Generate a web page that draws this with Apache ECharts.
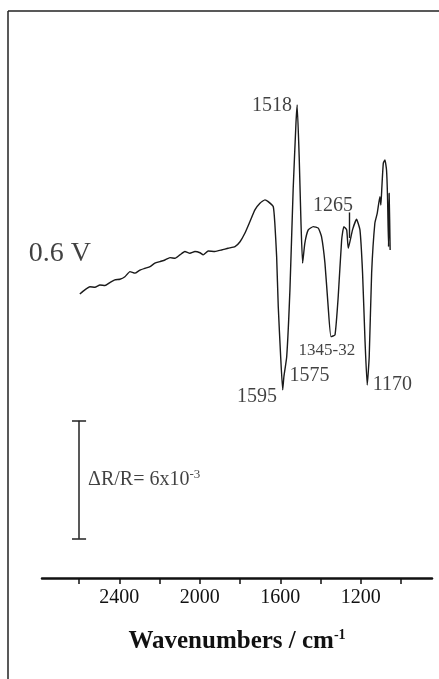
<!DOCTYPE html>
<html>
<head>
<meta charset="utf-8">
<script src="https://cdn.jsdelivr.net/npm/echarts@6/dist/echarts.min.js"></script>
<style>
html,body{margin:0;padding:0;background:#fff;}
#chart{width:439px;height:679px;}
</style>
</head>
<body>
<div id="chart"></div>
<script>
// Wavenumber (cm-1) of each spectrum point
const wavenumbers = [2596,2571,2546,2521,2496,2471,2447,2422,2397,2372,2347,2322,2297,2272,2247,2223,2198,2173,2148,2123,2099,2074,2049,2024,1999,1983,1958,1925,1891,1859,1825,1800,1776,1751,1726,1701,1676,1660,1635,1627,1618,1610,1598,1588,1582,1568,1552,1536,1522,1516,1506,1497,1489,1478,1461,1436,1411,1395,1378,1362,1348,1328,1312,1295,1284,1270,1262,1241,1221,1204,1191,1179,1168,1158,1146,1130,1118,1105,1100,1095,1088,1080,1072,1067,1062,1059,1054];
// Reflectance change, units of 1e-3 (arbitrary offset)
const reflectance = [14.45,14.66,14.82,14.79,14.91,14.88,15.03,15.17,15.20,15.33,15.59,15.51,15.67,15.76,15.84,16.02,16.10,16.18,16.30,16.27,16.44,16.61,16.52,16.61,16.55,16.44,16.64,16.61,16.69,16.78,16.86,17.11,17.54,18.13,18.73,19.07,19.24,19.15,18.90,18.05,16.35,13.81,11.26,9.57,10.24,11.26,14.66,19.75,23.14,24.07,21.44,18.05,16.02,17.03,17.71,17.88,17.80,17.37,16.02,13.81,12.28,12.37,14.32,17.20,17.88,17.71,16.78,17.71,18.25,17.71,15.51,12.11,9.82,11.26,15.51,18.05,18.56,19.40,18.98,19.91,21.10,21.27,20.76,19.40,16.86,19.58,16.69];

// Axis ticks and labels
const tickValues = [2600,2400,2200,2000,1800,1600,1400,1200,1000];
const labelValues = [2400,2000,1600,1200];

// Peak annotations: text, wavenumber, value
const peakTexts = ['1518','1265','1595','1575','1345-32','1170'];
const peakWn = [1641,1338,1716,1455,1368,1043];
const peakVal = [24.02,18.93,9.21,10.31,11.55,9.82];

// 1265 marker
const markerWn = 1256;
const markerRange = [17.3,18.6];

// Scale bar: ΔR/R = 6x10^-3
const scaleBarWn = 2600;
const scaleBarRange = [2, 8];
const scaleCapHalf = 35;

const potentialLabel = '0.6 V';
const potentialPos = [2695, 16.49];

const FONT = 'Liberation Serif';
const chart = echarts.init(document.getElementById('chart'));

const spectrum = wavenumbers.map((w,i)=>[w, reflectance[i]]);
const peaks = peakTexts.map((t,i)=>({value:[peakWn[i], peakVal[i]], name:t,
  label:{fontSize: t==='1345-32'?17:20}}));

chart.setOption({
  backgroundColor:'#fff',
  animation:false,
  grid:{left:42,right:7,top:67,bottom:101},
  xAxis:{
    type:'value', inverse:true, min:846, max:2784,
    splitLine:{show:false},
    axisLine:{lineStyle:{color:'#111',width:2.5}},
    axisTick:{customValues:tickValues,length:6,lineStyle:{color:'#111',width:1.5}},
    axisLabel:{customValues:labelValues,formatter:v=>String(v),fontFamily:FONT,fontSize:20,color:'#111',margin:10},
    name:'{b|Wavenumbers / cm}{s|-1}',
    nameLocation:'middle', nameGap:50,
    nameTextStyle:{rich:{
      b:{fontFamily:FONT,fontWeight:'bold',fontSize:25,color:'#111',lineHeight:28},
      s:{fontFamily:FONT,fontWeight:'bold',fontSize:14,color:'#111',verticalAlign:'top',lineHeight:28,padding:[0,0,8,0]}
    }}
  },
  yAxis:{type:'value',min:0,max:26,show:false},
  graphic:[
    {type:'line',shape:{x1:8,y1:11,x2:8,y2:679},style:{stroke:'#222',lineWidth:1.5}},
    {type:'line',shape:{x1:8,y1:11,x2:439,y2:11},style:{stroke:'#222',lineWidth:1.5}}
  ],
  series:[
    {
      type:'line', data:spectrum, symbol:'none', smooth:0.15,
      lineStyle:{color:'#1a1a1a',width:1.4},
      markLine:{
        silent:true, symbol:'none', label:{show:false},
        lineStyle:{color:'#1a1a1a',width:1.4,type:'solid'},
        data:[
          [{coord:[markerWn,markerRange[0]]},{coord:[markerWn,markerRange[1]]}]
        ]
      }
    },
    {
      type:'line', data:[], symbol:'none',
      markLine:{
        silent:true, symbol:'none', label:{show:false},
        lineStyle:{color:'#222',width:1.5,type:'solid'},
        data:[
          [{coord:[scaleBarWn,scaleBarRange[0]]},{coord:[scaleBarWn,scaleBarRange[1]]}],
          [{coord:[scaleBarWn+scaleCapHalf,scaleBarRange[0]]},{coord:[scaleBarWn-scaleCapHalf,scaleBarRange[0]]}],
          [{coord:[scaleBarWn+scaleCapHalf,scaleBarRange[1]]},{coord:[scaleBarWn-scaleCapHalf,scaleBarRange[1]]}]
        ]
      }
    },
    {
      type:'scatter', data:peaks, symbolSize:0,
      label:{show:true,position:'inside',formatter:p=>p.name,fontFamily:FONT,color:'#111'}
    },
    {
      type:'scatter', data:[{value:potentialPos,name:potentialLabel}], symbolSize:0,
      label:{show:true,position:'inside',formatter:p=>p.name,fontFamily:FONT,fontSize:28,color:'#111'}
    },
    {
      type:'scatter', data:[{value:[scaleBarWn - 45, (scaleBarRange[0]+scaleBarRange[1])/2]}], symbolSize:0,
      label:{show:true,position:'right',distance:0,
        formatter:'{a|ΔR/R= 6x10}{s|-3}',
        rich:{
          a:{fontFamily:FONT,fontSize:20,color:'#111',lineHeight:24},
          s:{fontFamily:FONT,fontSize:13,color:'#111',verticalAlign:'top',lineHeight:24,padding:[0,0,8,0]}
        }}
    }
  ]
});
</script>
</body>
</html>
